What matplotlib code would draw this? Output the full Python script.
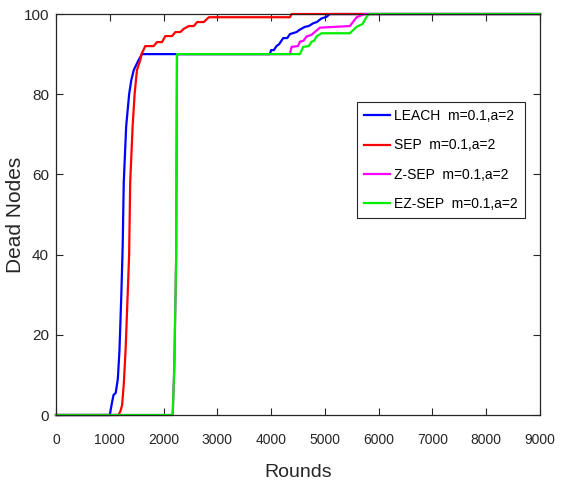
import matplotlib
matplotlib.use("Agg")
import matplotlib.pyplot as plt

plt.rcParams['font.family'] = ['Liberation Sans', 'DejaVu Sans']

# rounds / dead nodes
leach_rounds = [0, 1000, 1040, 1070, 1110, 1150, 1180, 1215, 1240, 1260, 1305, 1360, 1400,
                1445, 1535, 1600, 3978, 4000, 4050, 4100, 4150, 4225, 4300, 4350, 4473,
                4520, 4628, 4700, 4783, 4850, 4938, 5031, 5090, 9000]
leach_dead = [0, 0, 3, 5, 5.5, 9, 16, 30, 42, 58, 72, 80, 83.5,
              86, 88.5, 90, 90, 91, 91, 92, 92.5, 94, 94, 95, 95.5,
              96, 96.8, 97, 97.7, 98, 98.9, 99.3, 100, 100]

sep_rounds = [0, 1160, 1200, 1230, 1262, 1295, 1330, 1360, 1380, 1425, 1462, 1505, 1567,
              1590, 1660, 1815, 1878, 1971, 2033, 2158, 2220, 2313, 2375, 2469, 2562,
              2625, 2748, 2842, 4350, 4380, 9000]
sep_dead = [0, 0, 1, 2.5, 8, 16.5, 29, 40, 58, 72, 80, 86, 88.5,
            90, 92, 92, 93, 93, 94.5, 94.5, 95.5, 95.5, 96.3, 97, 97,
            98, 98, 99.2, 99.2, 100, 100]

zsep_rounds = [0, 2170, 2200, 2235, 2250, 4349, 4380, 4500, 4535, 4600, 4659, 4750,
               4907, 5465, 5590, 5740, 9000]
zsep_dead = [0, 0, 12, 40, 90, 90, 91.8, 92, 93.1, 93.3, 94.4, 94.8,
             96.6, 97, 99.2, 100, 100]

ezsep_rounds = [0, 2170, 2200, 2235, 2250, 4535, 4597, 4700, 4752, 4800, 4845, 4938,
                5465, 5589, 5700, 5775, 5824, 9000]
ezsep_dead = [0, 0, 12, 40, 90, 90, 91.8, 92, 93.1, 93.3, 94.4, 95.2,
              95.2, 96.8, 97.5, 99.3, 100, 100]

labels = ['LEACH  m=0.1,a=2', 'SEP  m=0.1,a=2', 'Z-SEP  m=0.1,a=2', 'EZ-SEP  m=0.1,a=2']
colors = ['#0000ff', '#ff0000', '#ff00ff', '#00ee00']

x_ticks = list(range(0, 9001, 1000))
y_ticks = list(range(0, 101, 20))

fig = plt.figure(figsize=(5.61, 4.92), dpi=100)
ax = fig.add_axes([0.0998, 0.1565, 0.8628, 0.815])

series = [(leach_rounds, leach_dead), (sep_rounds, sep_dead),
          (zsep_rounds, zsep_dead), (ezsep_rounds, ezsep_dead)]
for (r, d), lab, c in zip(series, labels, colors):
    ax.plot(r, d, color=c, lw=1.6, label=lab, clip_on=False)

ax.set_xlim(0, 9000)
ax.set_ylim(0, 100)
ax.set_xticks(x_ticks)
ax.set_yticks(y_ticks)
ax.tick_params(direction='in', top=True, right=True, length=5, width=0.8,
               labelsize=10, colors='#262626')
ax.tick_params(axis='x', pad=13)
ax.tick_params(axis='y', pad=5, labelsize=11)
for s in ax.spines.values():
    s.set_color('#262626')
    s.set_linewidth(0.9)

ax.set_xlabel('Rounds', fontsize=14, color='#262626', labelpad=12)
ax.set_ylabel('Dead Nodes', fontsize=15, color='#262626')
ax.yaxis.set_label_coords(-0.064, 0.5)

leg = ax.legend(loc='upper right', bbox_to_anchor=(0.969, 0.78), fontsize=10,
                frameon=True, fancybox=False, edgecolor='#262626', framealpha=1,
                handlelength=1.9, handletextpad=0.3, labelspacing=1.1,
                borderpad=0.5, borderaxespad=0)
leg.get_frame().set_linewidth(0.8)

fig.savefig('out.png', dpi=100)
